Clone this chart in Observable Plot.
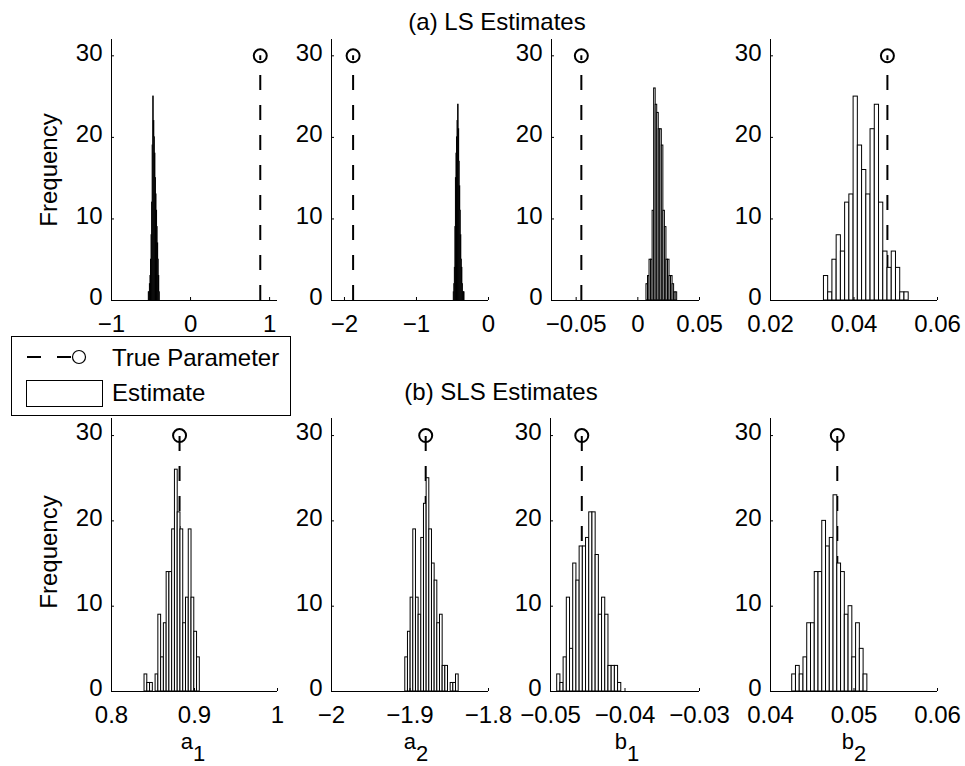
<!DOCTYPE html>
<html>
<head>
<meta charset="utf-8">
<script src="https://cdn.jsdelivr.net/npm/d3@7"></script>
<script src="https://cdn.jsdelivr.net/npm/@observablehq/plot@0.6"></script>
<style>
  body { margin: 0; background: #fff; }
  #fig { position: relative; width: 965px; height: 766px; background: #fff; overflow: hidden;
         font-family: "Liberation Sans", Arial, sans-serif; }
  #fig svg { position: absolute; overflow: visible; }
</style>
</head>
<body>
<div id="fig"></div>
<script>
// ---------------- data ----------------
const yDomain = [0, 32];
const yTicks = [0, 10, 20, 30];
const markerHeight = 30;

// true parameter values
const trueA1 = 0.882;
const trueA2 = -1.88;
const trueB1 = -0.0458;
const trueB2 = 0.048;

// (a) LS estimates: 20-bin histogram counts and bin range
const lsA1Counts = [1, 1, 2, 3, 5, 8, 12, 19, 25, 22, 20, 18, 15, 13, 11, 9, 7, 5, 3, 1];
const lsA1Range = [-0.528, -0.389];
const lsA2Counts = [1, 2, 4, 9, 15, 18, 20, 22, 24, 21, 17, 14, 11, 8, 5, 4, 2, 1, 1, 1];
const lsA2Range = [-0.482, -0.333];
const lsB1Counts = [2, 3, 5, 5, 11, 26, 24, 23, 21, 21, 19, 11, 9, 5, 5, 3, 3, 2, 1, 1];
const lsB1Range = [0.0070, 0.0319];
const lsB2Counts = [3, 1, 5, 8, 6, 12, 13, 25, 19, 16, 13, 21, 24, 12, 6, 4, 6, 4, 1, 1];
const lsB2Range = [0.0328, 0.0531];

// (b) SLS estimates
const slsA1Counts = [2, 1, 1, 0, 2, 9, 4, 8, 14, 14, 19, 26, 21, 19, 8, 11, 19, 11, 7, 4];
const slsA1Range = [0.8398, 0.9064];
const slsA2Counts = [4, 7, 11, 19, 11, 9, 18, 22, 25, 19, 15, 13, 8, 9, 3, 3, 0, 1, 1, 2];
const slsA2Range = [-1.906, -1.838];
const slsB1Counts = [2, 1, 4, 11, 5, 15, 13, 17, 17, 18, 21, 21, 16, 9, 11, 9, 3, 3, 3, 1];
const slsB1Range = [-0.0491, -0.0405];
const slsB2Counts = [2, 3, 2, 4, 8, 8, 14, 14, 20, 17, 18, 23, 15, 14, 9, 10, 4, 8, 5, 2];
const slsB2Range = [0.0426, 0.0516];

// axis domains and tick labels
const lsA1Domain = [-1, 1.1],     lsA1Ticks = [-1, 0, 1],          lsA1Labels = ["\u22121", "0", "1"];
const lsA2Domain = [-2.18, 0],    lsA2Ticks = [-2, -1, 0],         lsA2Labels = ["\u22122", "\u22121", "0"];
const lsB1Domain = [-0.07, 0.05], lsB1Ticks = [-0.05, 0, 0.05],    lsB1Labels = ["\u22120.05", "0", "0.05"];
const lsB2Domain = [0.02, 0.06],  lsB2Ticks = [0.02, 0.04, 0.06],  lsB2Labels = ["0.02", "0.04", "0.06"];
const slsA1Domain = [0.8, 1],     slsA1Ticks = [0.8, 0.9, 1],      slsA1Labels = ["0.8", "0.9", "1"];
const slsA2Domain = [-2, -1.8],   slsA2Ticks = [-2, -1.9, -1.8],   slsA2Labels = ["\u22122", "\u22121.9", "\u22121.8"];
const slsB1Domain = [-0.05, -0.03], slsB1Ticks = [-0.05, -0.04, -0.03], slsB1Labels = ["\u22120.05", "\u22120.04", "\u22120.03"];
const slsB2Domain = [0.04, 0.06], slsB2Ticks = [0.04, 0.05, 0.06], slsB2Labels = ["0.04", "0.05", "0.06"];

const titles = ["(a) LS Estimates", "(b) SLS Estimates"];
const yLabel = "Frequency";
const xLabels = [["a", "1"], ["a", "2"], ["b", "1"], ["b", "2"]];
const legendLabels = ["True Parameter", "Estimate"];

// ---------------- layout ----------------
const FONT = 24;
const fig = document.getElementById("fig");
const panels = [
  {counts: lsA1Counts, range: lsA1Range, truth: trueA1, domain: lsA1Domain, ticks: lsA1Ticks, labels: lsA1Labels, box: [111, 277, 39, 300], pad: 17},
  {counts: lsA2Counts, range: lsA2Range, truth: trueA2, domain: lsA2Domain, ticks: lsA2Ticks, labels: lsA2Labels, box: [331, 488, 39, 300], pad: 17},
  {counts: lsB1Counts, range: lsB1Range, truth: trueB1, domain: lsB1Domain, ticks: lsB1Ticks, labels: lsB1Labels, box: [551, 699, 39, 300], pad: 17},
  {counts: lsB2Counts, range: lsB2Range, truth: trueB2, domain: lsB2Domain, ticks: lsB2Ticks, labels: lsB2Labels, box: [770, 937, 39, 300], pad: 17},
  {counts: slsA1Counts, range: slsA1Range, truth: trueA1, domain: slsA1Domain, ticks: slsA1Ticks, labels: slsA1Labels, box: [111, 277, 418, 691], pad: 17},
  {counts: slsA2Counts, range: slsA2Range, truth: trueA2, domain: slsA2Domain, ticks: slsA2Ticks, labels: slsA2Labels, box: [331, 488, 418, 691], pad: 17},
  {counts: slsB1Counts, range: slsB1Range, truth: trueB1, domain: slsB1Domain, ticks: slsB1Ticks, labels: slsB1Labels, box: [550, 699, 418, 691], pad: 17},
  {counts: slsB2Counts, range: slsB2Range, truth: trueB2, domain: slsB2Domain, ticks: slsB2Ticks, labels: slsB2Labels, box: [770, 937, 418, 691], pad: 17}
];

function drawPanel(p) {
  const mL = 80, mR = 40, mT = 30, mB = 60;
  const [x0, x1, yT, yB] = p.box;
  const w = x1 - x0, h = yB - yT;
  const n = p.counts.length;
  const step = (p.range[1] - p.range[0]) / n;
  const bins = p.counts.map((c, i) => ({lo: p.range[0] + i * step, hi: p.range[0] + (i + 1) * step, count: c}));
  const fmt = d => { const k = p.ticks.findIndex(t => Math.abs(t - d) < 1e-9); return k >= 0 ? p.labels[k] : ""; };
  const chart = Plot.plot({
    width: w + mL + mR,
    height: h + mT + mB,
    marginLeft: mL, marginRight: mR, marginTop: mT, marginBottom: mB,
    style: `font-family: 'Liberation Sans', Arial, sans-serif; font-size: ${FONT}px; background: transparent; overflow: visible; color: black;`,
    x: {domain: p.domain},
    y: {domain: yDomain},
    marks: [
      Plot.ruleX([p.truth], {y1: 0, y2: markerHeight, stroke: "black", strokeWidth: 2, strokeDasharray: "15,15"}),
      Plot.rectY(bins, {x1: "lo", x2: "hi", y: "count", fill: "white", stroke: "black", strokeWidth: 1}),
      Plot.dot([p.truth], {x: d => d, y: () => markerHeight, r: 6.5, stroke: "black", strokeWidth: 2, fill: "none"}),
      Plot.axisX({ticks: p.ticks, tickFormat: fmt, tickSize: -3, tickPadding: p.pad, label: null}),
      Plot.axisY({ticks: yTicks, tickSize: -3, tickFormat: () => "", label: null}),
      Plot.axisY({ticks: yTicks, tickSize: 0, tickPadding: 9, dy: -3, tickFormat: d => String(d), label: null}),
      Plot.ruleY([0], {stroke: "black", strokeWidth: 1}),
      Plot.ruleX([p.domain[0]], {stroke: "black", strokeWidth: 1})
    ]
  });
  chart.style.left = (x0 - mL) + "px";
  chart.style.top = (yT - mT) + "px";
  fig.appendChild(chart);
}
panels.forEach(drawPanel);

// ---------------- overlay texts and legend ----------------
const ov = d3.create("svg")
  .attr("width", 965).attr("height", 766)
  .style("left", "0px").style("top", "0px")
  .style("font-family", "'Liberation Sans', Arial, sans-serif")
  .style("font-size", FONT + "px");

ov.append("text").attr("x", 497).attr("y", 30).attr("text-anchor", "middle").text(titles[0]);
ov.append("text").attr("x", 501).attr("y", 400).attr("text-anchor", "middle").text(titles[1]);

[170, 552].forEach(cy => {
  ov.append("text").attr("transform", `translate(57,${cy}) rotate(-90)`)
    .attr("text-anchor", "middle").text(yLabel);
});

const xLabelCenters = [193, 416, 627, 854];
xLabels.forEach(([base, sub], i) => {
  const t = ov.append("text").attr("x", xLabelCenters[i]).attr("y", 748.5)
    .attr("text-anchor", "middle").style("font-size", "22px");
  t.append("tspan").text(base);
  t.append("tspan").attr("dy", 12.5).text(sub);
});

// legend
const lg = ov.append("g");
lg.append("rect").attr("x", 11.5).attr("y", 336.5).attr("width", 279).attr("height", 79)
  .attr("fill", "white").attr("stroke", "black").attr("stroke-width", 1);
lg.append("line").attr("x1", 27).attr("x2", 79).attr("y1", 357).attr("y2", 357)
  .attr("stroke", "black").attr("stroke-width", 2).attr("stroke-dasharray", "14,16");
lg.append("circle").attr("cx", 79).attr("cy", 357).attr("r", 6.5)
  .attr("fill", "white").attr("stroke", "black").attr("stroke-width", 1.2);
lg.append("rect").attr("x", 26.5).attr("y", 380.5).attr("width", 76).attr("height", 26)
  .attr("fill", "white").attr("stroke", "black").attr("stroke-width", 1);
lg.append("text").attr("x", 112).attr("y", 366).text(legendLabels[0]);
lg.append("text").attr("x", 112).attr("y", 401).text(legendLabels[1]);

fig.appendChild(ov.node());
</script>
</body>
</html>
